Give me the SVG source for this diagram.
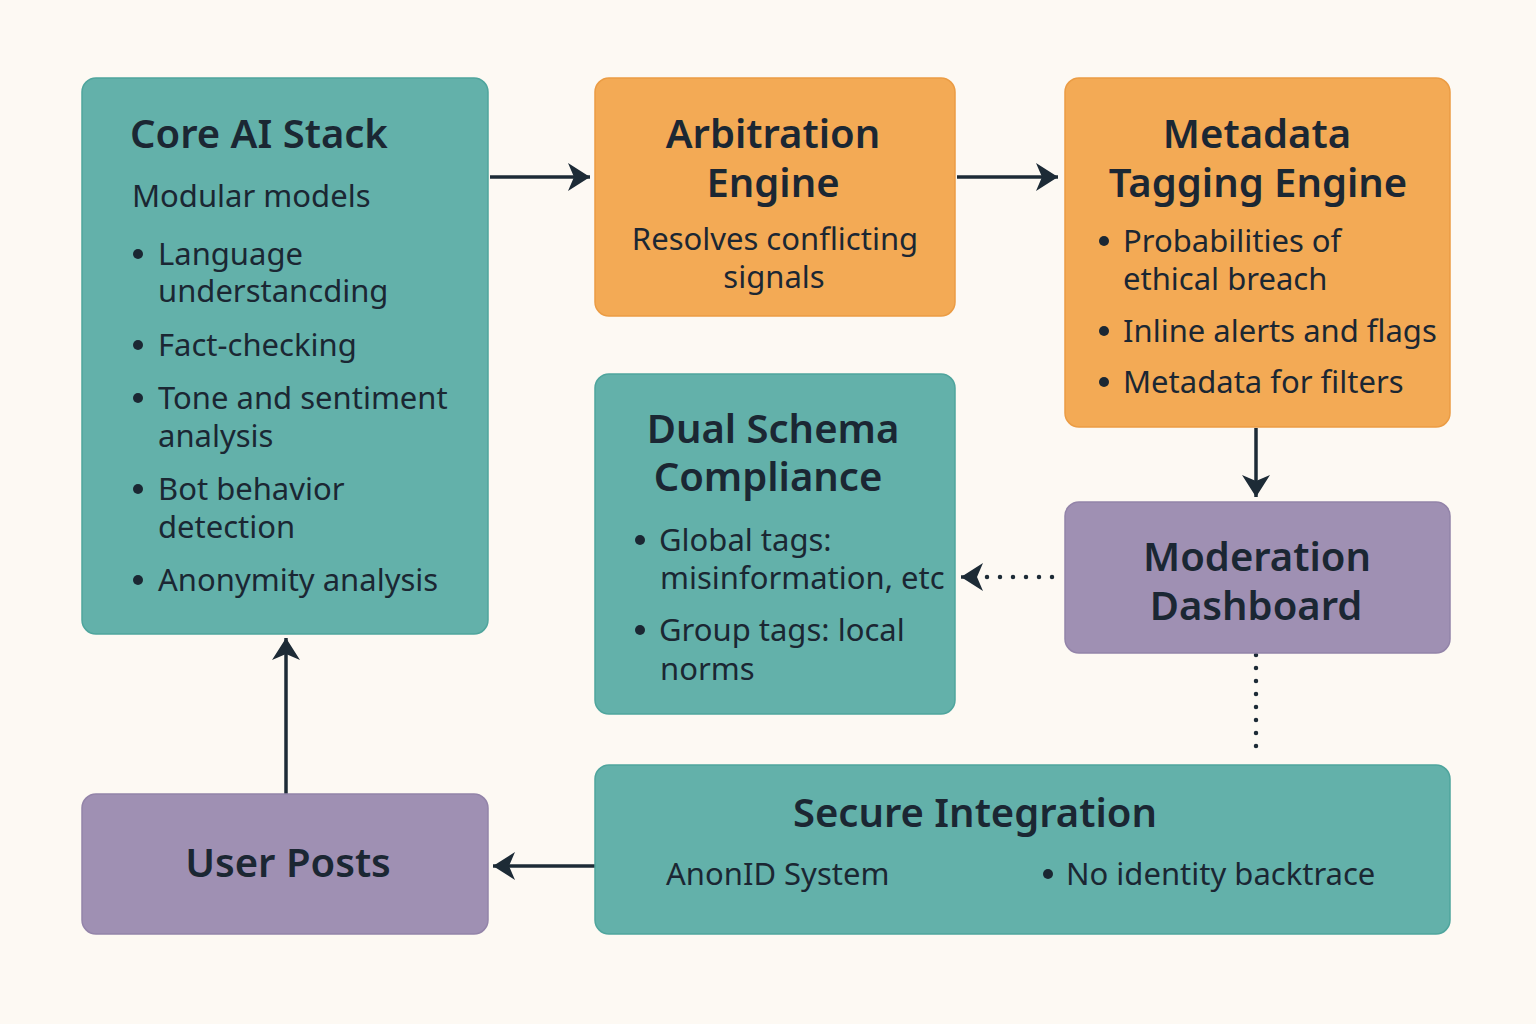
<svg xmlns="http://www.w3.org/2000/svg" width="1536" height="1024" viewBox="0 0 1536 1024">
<defs>
<marker id="arr" markerUnits="userSpaceOnUse" markerWidth="24" markerHeight="30" refX="22" refY="15" orient="auto">
<path d="M0,1 L22,15 L0,29 L6,15 Z" fill="#1d2b36"/>
</marker>
<style>
.teal{fill:#63b1aa;stroke:#4fa59d;stroke-width:1.5}
.orange{fill:#f3aa55;stroke:#eb9c44;stroke-width:1.5}
.purple{fill:#9f90b3;stroke:#9384a9;stroke-width:1.5}
text{font-family:"Noto Sans","Open Sans","DejaVu Sans",sans-serif;fill:#1b2733}
.t{font-size:40px;font-weight:600}
.b{font-size:31px}
.c{text-anchor:middle}
.line{stroke:#1d2b36;stroke-width:3.5;fill:none}
.dot{stroke:#1d2b36;stroke-width:4.5;fill:none;stroke-linecap:round;stroke-dasharray:0 13}
</style>
</defs>
<rect width="1536" height="1024" fill="#fdf9f3"/>

<g id="connectors">
<line class="line" x1="490" y1="177" x2="590" y2="177" marker-end="url(#arr)"/>
<line class="line" x1="957" y1="177" x2="1058" y2="177" marker-end="url(#arr)"/>
<line class="line" x1="1256" y1="428" x2="1256" y2="497" marker-end="url(#arr)"/>
<line class="dot" x1="1052" y1="577" x2="980" y2="577"/>
<line class="line" x1="975" y1="577" x2="961" y2="577" marker-end="url(#arr)"/>
<line class="dot" x1="1256" y1="655" x2="1256" y2="757"/>
<line class="line" x1="595" y1="866" x2="493" y2="866" marker-end="url(#arr)"/>
<line class="line" x1="286" y1="794" x2="286" y2="638" marker-end="url(#arr)"/>
</g>

<g id="core-ai-stack">
<rect class="teal" x="82" y="78" width="406" height="556" rx="14"/>
<text class="t" x="130" y="148">Core AI Stack</text>
<text class="b" x="132" y="207">Modular models</text>
<circle cx="138" cy="254" r="5" fill="#1b2733"/>
<text class="b" x="158" y="265">Language</text>
<text class="b" x="158" y="302">understancding</text>
<circle cx="138" cy="345" r="5" fill="#1b2733"/>
<text class="b" x="158" y="356">Fact-checking</text>
<circle cx="138" cy="398" r="5" fill="#1b2733"/>
<text class="b" x="158" y="409">Tone and sentiment</text>
<text class="b" x="158" y="447">analysis</text>
<circle cx="138" cy="489" r="5" fill="#1b2733"/>
<text class="b" x="158" y="500">Bot behavior</text>
<text class="b" x="158" y="538">detection</text>
<circle cx="138" cy="580" r="5" fill="#1b2733"/>
<text class="b" x="158" y="591">Anonymity analysis</text>
</g>

<g id="arbitration-engine">
<rect class="orange" x="595" y="78" width="360" height="238" rx="14"/>
<text class="t c" x="773" y="148">Arbitration</text>
<text class="t c" x="773" y="197">Engine</text>
<text class="b c" x="775" y="250">Resolves conflicting</text>
<text class="b c" x="774" y="288">signals</text>
</g>

<g id="metadata-tagging-engine">
<rect class="orange" x="1065" y="78" width="385" height="349" rx="14"/>
<text class="t c" x="1257" y="148">Metadata</text>
<text class="t c" x="1258" y="197">Tagging Engine</text>
<circle cx="1104" cy="241" r="5" fill="#1b2733"/>
<text class="b" x="1123" y="252">Probabilities of</text>
<text class="b" x="1123" y="290">ethical breach</text>
<circle cx="1104" cy="331" r="5" fill="#1b2733"/>
<text class="b" x="1123" y="342">Inline alerts and flags</text>
<circle cx="1104" cy="382" r="5" fill="#1b2733"/>
<text class="b" x="1123" y="393">Metadata for filters</text>
</g>

<g id="dual-schema-compliance">
<rect class="teal" x="595" y="374" width="360" height="340" rx="14"/>
<text class="t c" x="773" y="443">Dual Schema</text>
<text class="t c" x="768" y="491">Compliance</text>
<circle cx="640" cy="540" r="5" fill="#1b2733"/>
<text class="b" x="659" y="551">Global tags:</text>
<text class="b" x="660" y="589">misinformation, etc</text>
<circle cx="640" cy="630" r="5" fill="#1b2733"/>
<text class="b" x="659" y="641">Group tags: local</text>
<text class="b" x="660" y="680">norms</text>
</g>

<g id="moderation-dashboard">
<rect class="purple" x="1065" y="502" width="385" height="151" rx="14"/>
<text class="t c" x="1257" y="571">Moderation</text>
<text class="t c" x="1256" y="620">Dashboard</text>
</g>

<g id="secure-integration">
<rect class="teal" x="595" y="765" width="855" height="169" rx="14"/>
<text class="t c" x="975" y="827">Secure Integration</text>
<text class="b" x="666" y="885">AnonID System</text>
<circle cx="1048" cy="874" r="5" fill="#1b2733"/>
<text class="b" x="1066" y="885">No identity backtrace</text>
</g>

<g id="user-posts">
<rect class="purple" x="82" y="794" width="406" height="140" rx="14"/>
<text class="t c" x="288" y="877">User Posts</text>
</g>
</svg>
